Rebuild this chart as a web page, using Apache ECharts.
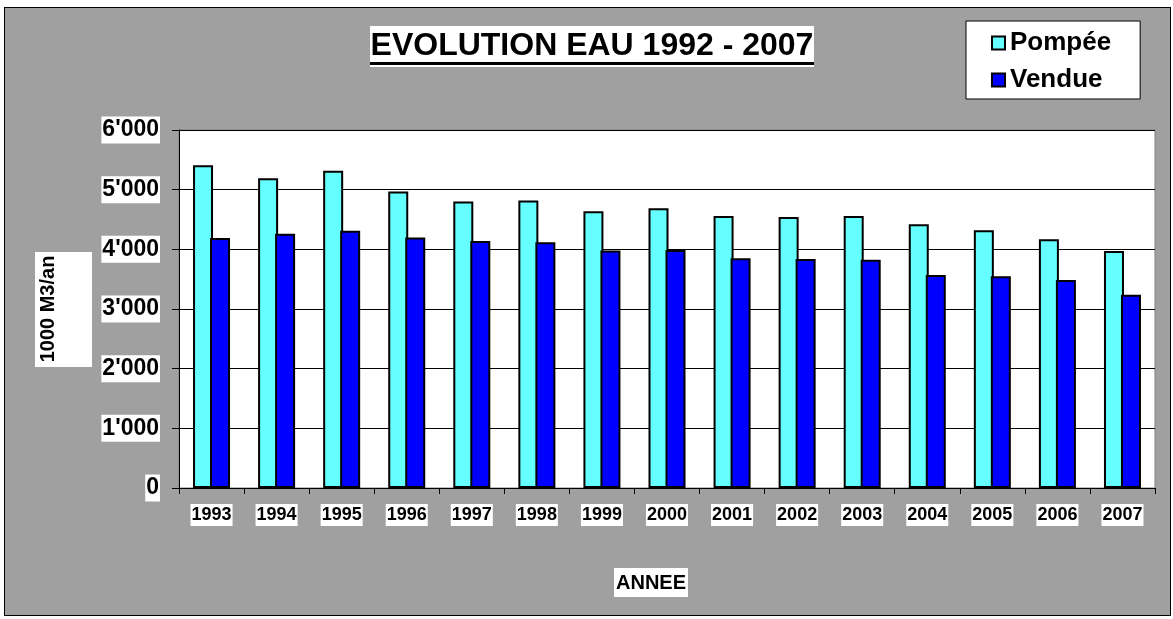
<!DOCTYPE html>
<html>
<head>
<meta charset="utf-8">
<script src="https://cdn.jsdelivr.net/npm/echarts@6/dist/echarts.min.js"></script>
<style>
  html, body { margin: 0; padding: 0; background: #fff; }
  #frame { position: absolute; left: 4px; top: 7px; width: 1165px; height: 607px; border: 1px solid #000; background: #a0a0a0; }
  #myChart { position: absolute; left: 0; top: 0; width: 1173px; height: 619px; }
</style>
</head>
<body>
<div id="frame"></div>
<div id="myChart"></div>
<script>
const years = ['1993', '1994', '1995', '1996', '1997', '1998', '1999', '2000',
  '2001', '2002', '2003', '2004', '2005', '2006', '2007'];
const pompee = [5410, 5190, 5315, 4970, 4800, 4820, 4640, 4690, 4560, 4540, 4560, 4420, 4320, 4170, 3970];
const vendue = [4190, 4260, 4310, 4200, 4140, 4120, 3980, 3990, 3850, 3840, 3825, 3570, 3550, 3485, 3240];
const yTicks = [0, 1000, 2000, 3000, 4000, 5000, 6000];

const font = "'Liberation Sans', Arial, sans-serif";
const mychart = echarts.init(document.getElementById('myChart'));

const options = {
  backgroundColor: 'transparent',
  animation: false,
  textStyle: { fontFamily: font },
  grid: {
    left: 179,
    right: 18,
    top: 130,
    bottom: 131,
    show: true,
    backgroundColor: '#fff',
    borderColor: '#808080',
    borderWidth: 1,
  },
  legend: {
    orient: 'vertical',
    left: 966,
    top: 21,
    backgroundColor: '#fff',
    borderColor: '#000',
    borderWidth: 1,
    padding: [9, 29, 6, 25],
    itemGap: 11,
    itemWidth: 13,
    itemHeight: 13,
    icon: 'rect',
    textStyle: { fontFamily: font, fontWeight: 'bold', fontSize: 26, color: '#000' },
    data: ['Pompée', 'Vendue'],
  },
  graphic: [
    {
      type: 'group',
      children: [
        { type: 'rect', shape: { x: 370, y: 26, width: 444, height: 41 }, style: { fill: '#fff' } },
        {
          type: 'text', x: 592, y: 46,
          style: { text: 'EVOLUTION EAU 1992 - 2007', font: 'bold 32px ' + font, fill: '#000', align: 'center', verticalAlign: 'middle' },
        },
        { type: 'rect', shape: { x: 370, y: 62, width: 444, height: 3 }, style: { fill: '#000' } },
      ],
    },
    {
      type: 'group',
      children: [
        { type: 'rect', shape: { x: 35, y: 252, width: 57, height: 115 }, style: { fill: '#fff' } },
        {
          type: 'text', x: 48, y: 309, rotation: Math.PI / 2,
          style: { text: '1000 M3/an', font: 'bold 20px ' + font, fill: '#000', align: 'center', verticalAlign: 'middle' },
        },
      ],
    },
    {
      type: 'group',
      children: [
        { type: 'rect', shape: { x: 614, y: 568, width: 74, height: 29 }, style: { fill: '#fff' } },
        {
          type: 'text', x: 651, y: 583,
          style: { text: 'ANNEE', font: 'bold 20px ' + font, fill: '#000', align: 'center', verticalAlign: 'middle' },
        },
      ],
    },
  ],
  xAxis: {
    type: 'category',
    data: years,
    axisLine: { lineStyle: { color: '#000', width: 1 } },
    axisTick: { show: true, length: 6, lineStyle: { color: '#000' } },
    axisLabel: {
      color: '#000',
      fontFamily: font,
      fontWeight: 'bold',
      fontSize: 18,
      margin: 16,
      backgroundColor: '#fff',
      padding: [2, 1, 2, 1],
      interval: 0,
    },
  },
  yAxis: {
    type: 'value',
    min: yTicks[0],
    max: yTicks[yTicks.length - 1],
    interval: 1000,
    axisLine: { show: true, lineStyle: { color: '#000', width: 1 } },
    axisTick: { show: true, length: 7, lineStyle: { color: '#000' } },
    splitLine: { show: true, lineStyle: { color: '#000', width: 1 } },
    axisLabel: {
      color: '#000',
      fontFamily: font,
      fontWeight: 'bold',
      fontSize: 23,
      margin: 19,
      backgroundColor: '#fff',
      padding: [2, 1, 2, 1],
      formatter: function (v) {
        return v === 0 ? '0' : (v / 1000) + "'000";
      },
    },
  },
  series: [
    {
      name: 'Pompée',
      type: 'bar',
      data: pompee,
      barWidth: 20,
      barGap: '-15%',
      itemStyle: { color: '#66FFFF', borderColor: '#000', borderWidth: 2 },
    },
    {
      name: 'Vendue',
      type: 'bar',
      data: vendue,
      barWidth: 20,
      itemStyle: { color: '#0000FF', borderColor: '#000', borderWidth: 2 },
    },
  ],
};
mychart.setOption(options);
</script>
</body>
</html>
